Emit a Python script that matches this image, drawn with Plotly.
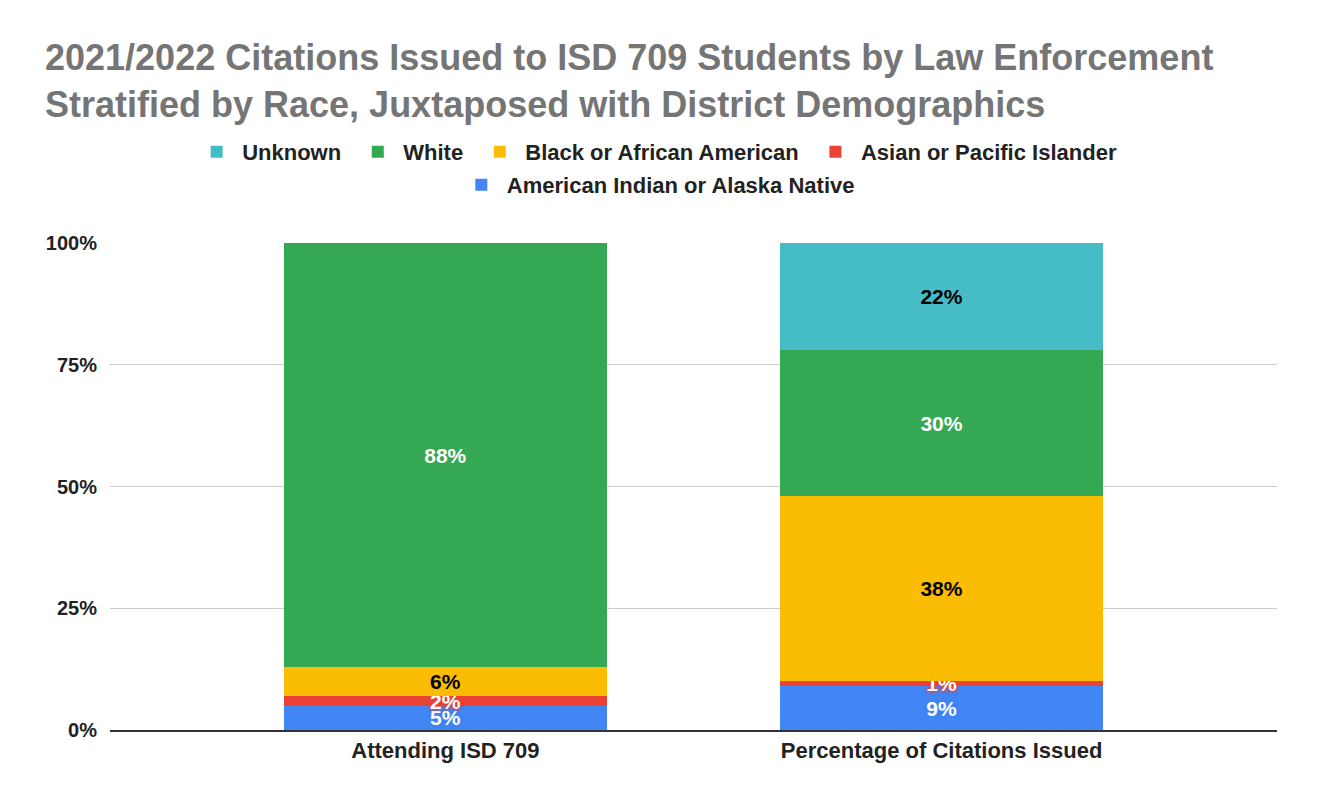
import plotly.graph_objects as go

categories = ['Attending ISD 709', 'Percentage of Citations Issued']
american_indian = [5, 9]
asian = [2, 1]
black = [6, 38]
white = [88, 30]
unknown = [0, 22]

tick_vals = [0, 25, 50, 75, 100]
tick_text = ['0%', '25%', '50%', '75%', '100%']

FONT = 'Liberation Sans, Arial, sans-serif'

series = [
    ('American Indian or Alaska Native', american_indian, '#4285F4', 'white', 'legend2'),
    ('Asian or Pacific Islander', asian, '#EA4335', 'white', 'legend'),
    ('Black or African American', black, '#FBBC04', 'black', 'legend'),
    ('White', white, '#34A853', 'white', 'legend'),
    ('Unknown', unknown, '#46BDC6', 'black', 'legend'),
]

# page has an 8px body margin, so the figure is drawn 8px smaller
W, H = 1317, 789

fig = go.Figure()
for name, vals, color, txtcolor, leg in series:
    labels = [f'<b>{v}%</b>' if v > 0 else '' for v in vals]
    shadow = 'none'
    if name in ('Asian or Pacific Islander', 'American Indian or Alaska Native'):
        shadow = f'0 0 2px {color}, 0 0 2px {color}, 0 0 3px {color}, 0 0 4px {color}'
    fig.add_trace(go.Bar(
        x=categories, y=vals, name=f'<b>{name}</b>&nbsp;', marker_color=color, marker_line_width=0,
        text=labels, textposition='inside', insidetextanchor='middle',
        constraintext='none', textangle=0,
        textfont=dict(family=FONT, size=21, color=txtcolor, shadow=shadow),
        legend=leg, hoverinfo='x+y+name'))

fig.update_layout(
    barmode='stack', barnorm='percent', bargap=0.35,
    width=W, height=H,
    margin=dict(l=102, r=48, t=235, b=67),
    plot_bgcolor='white', paper_bgcolor='white',
    font=dict(family=FONT, color='#222222'),
    title=dict(text='<b>2021/2022 Citations Issued to ISD 709 Students by Law Enforcement<br>'
                    'Stratified by Race, Juxtaposed with District Demographics</b>',
               x=37 / W, xref='container', xanchor='left',
               y=1 - 62 / H, yref='container', yanchor='top',
               font=dict(family=FONT, size=36, color='#757575')),
    legend=dict(orientation='h', x=0.471, xanchor='center',
                y=1.187, yanchor='middle', traceorder='reversed', itemwidth=41,
                font=dict(family=FONT, size=22, color='#222222')),
    legend2=dict(orientation='h', x=0.472, xanchor='center',
                 y=1.119, yanchor='middle', itemwidth=41,
                 font=dict(family=FONT, size=22, color='#222222')),
    showlegend=True,
)

fig.update_xaxes(range=[-0.676, 1.676], showline=True, linecolor='#333333', linewidth=2,
                 ticks='', tickangle=0, tickfont=dict(family=FONT, size=22, color='#222222'),
                 tickprefix='<b>', ticksuffix='</b>')
fig.update_yaxes(range=[0, 100], tickvals=tick_vals, ticktext=['<b>' + t + '</b>' for t in tick_text],
                 gridcolor='#CCCCCC', gridwidth=1, zeroline=False,
                 tickfont=dict(family=FONT, size=20, color='#222222'), ticklabelstandoff=12)

fig.write_html('out.html')
